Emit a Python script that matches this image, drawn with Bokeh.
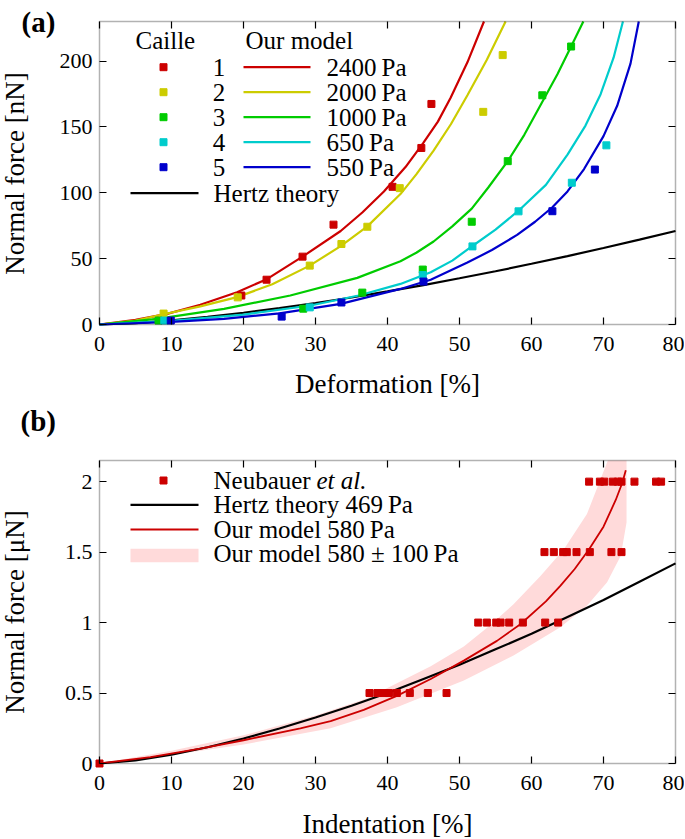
from math import pi
from bokeh.plotting import figure
from bokeh.layouts import column
from bokeh.models import Range1d, FixedTicker, LinearAxis, Label, BoxAnnotation
from bokeh.embed import file_html
from bokeh.resources import INLINE

FONT = "Liberation Serif"

# ---------------- panel (a): Caille data and model curves ----------------
colors = ["#CC0000", "#CCCC00", "#00CC00", "#00CCCC", "#0000CC"]
moduli = ["2400", "2000", "1000", "650", "550"]

caille1_x = [19.7, 23.2, 28.2, 32.5, 40.7, 44.7, 46.1]
caille1_y = [22, 34, 51.5, 75.8, 104.5, 134, 167.4]
caille2_x = [8.9, 19.2, 29.2, 33.6, 37.2, 41.7, 53.3, 56.0]
caille2_y = [8.3, 20.6, 44.7, 61.1, 74.2, 103.5, 161.4, 204.5]
caille3_x = [8.2, 28.3, 36.5, 44.9, 51.7, 56.7, 61.5, 65.5]
caille3_y = [3, 12, 24.2, 41.7, 78, 124, 174, 211]
caille4_x = [9.0, 29.2, 44.9, 51.8, 58.2, 65.6, 70.4]
caille4_y = [3, 13, 37.5, 59.3, 85.9, 107.6, 136]
caille5_x = [9.9, 25.3, 33.6, 45.0, 62.9, 68.8]
caille5_y = [3, 6, 16.7, 32.6, 86, 117.6]

model1_x = [0, 5, 9.4, 14, 19.1, 23.3, 28.2, 33.5, 36.5, 39.5, 42.5, 45, 47, 48.75, 51.1, 53.4]
model1_y = [0, 3.5, 8.1, 15, 24.5, 34.6, 51.5, 71, 85, 101, 119.5, 138, 154, 172, 199, 230]
model2_x = [0, 5, 8.9, 14, 19.1, 24, 29.2, 33.5, 37.2, 41.8, 44, 46.4, 48.8, 51.1, 53.8, 56.4]
model2_y = [0, 3.0, 7.8, 13.8, 20.8, 30.5, 44.7, 59.5, 74.5, 99, 114, 132, 152, 174, 201, 230]
model3_x = [0, 8, 17.3, 26.5, 35.8, 41.8, 44, 46.4, 49, 51.7, 54, 56.7, 59, 61.3, 63.6, 65.5, 67.2]
model3_y = [0, 4.3, 11.9, 22, 35.4, 48, 54.5, 63, 74.5, 88, 104, 124, 144, 167, 190, 211, 230]
model4_x = [0, 10, 20, 29.3, 36, 41.8, 46, 49, 51.8, 55, 58.2, 62, 65, 67.5, 69.6, 71.4, 72.7]
model4_y = [0, 2.8, 7.5, 14.4, 22, 30.8, 39.6, 48.5, 59.6, 72, 86.4, 106, 129, 151, 174.8, 202.5, 230]
model5_x = [0, 10, 17.3, 25, 33.5, 41.8, 46, 51.1, 54.5, 58, 60.5, 62.9, 65, 67.3, 70, 71.9, 73.75, 74.9]
model5_y = [0, 2.0, 4.3, 8.5, 15.7, 27, 34, 47, 56.5, 68, 78, 89, 101, 118, 143, 166, 198, 230]

hertz_a_x = [0, 5, 10, 15, 20, 25, 30, 35, 40, 45, 50, 55, 60, 65, 70, 75, 80]
hertz_a_y = [0, 1.1, 3.1, 5.8, 8.9, 12.4, 16.3, 20.5, 25.1, 29.9, 35.1, 40.4, 46.1, 51.9, 58.1, 64.4, 71]

# ---------------- panel (b): Neubauer data and model ----------------
neub_x = [0,
          37.5, 38.6, 39.5, 40.2, 41.3, 43.1, 45.6, 48.2,
          52.6, 53.8, 55.1, 55.7, 56.9, 58.8, 61.9, 63.7,
          61.8, 63.1, 64.4, 64.9, 66.25, 68.1, 71.1, 72.5,
          68.0, 69.5, 70.1, 71.3, 72.0, 72.5, 74.3, 77.3, 78.0]
neub_y = [0,
          0.5, 0.5, 0.5, 0.5, 0.5, 0.5, 0.5, 0.5,
          1.0, 1.0, 1.0, 1.0, 1.0, 1.0, 1.0, 1.0,
          1.5, 1.5, 1.5, 1.5, 1.5, 1.5, 1.5, 1.5,
          2.0, 2.0, 2.0, 2.0, 2.0, 2.0, 2.0, 2.0, 2.0]

hertz_b_x = [0, 5, 10, 15, 20, 25, 30, 35, 40, 45, 50, 55, 60, 65, 70, 75, 80]
hertz_b_y = [0, 0.022, 0.063, 0.115, 0.177, 0.248, 0.326, 0.41, 0.50, 0.60,
             0.70, 0.81, 0.92, 1.04, 1.16, 1.29, 1.42]

model_b_x = [0, 7.1, 14, 20, 27.9, 32.1, 36.7, 41.3, 46, 50.6, 55.2, 58.5,
             62, 64, 66, 68, 70, 71.7, 72.6, 73.1]
model_b_y = [0, 0.045, 0.105, 0.165, 0.25, 0.3, 0.38, 0.48, 0.6, 0.73, 0.87, 0.99,
             1.15, 1.26, 1.38, 1.52, 1.68, 1.87, 1.99, 2.08]

band_hi_x = [0, 10, 20, 30, 37, 41.3, 46, 50.6, 54, 57.5, 61.25, 64.5, 67.7, 70.6, 73.2]
band_hi_y = [0, 0.09, 0.2, 0.34, 0.46, 0.57, 0.69, 0.83, 0.97, 1.13, 1.33, 1.52, 1.77, 2.15, 2.15]
band_lo_x = [0, 10, 20, 32.1, 41.3, 50.6, 57.5, 64, 67.7, 70.5, 72.4, 73.2]
band_lo_y = [0, 0.06, 0.135, 0.25, 0.4, 0.589, 0.766, 0.967, 1.12, 1.286, 1.475, 1.71]

x_ticks = [0, 10, 20, 30, 40, 50, 60, 70, 80]
ya_ticks = [0, 50, 100, 150, 200]
yb_ticks = [0, 0.5, 1, 1.5, 2]
yb_labels = {0: "0", 0.5: "0.5", 1: "1", 1.5: "1.5", 2: "2"}

# ---------------- page geometry (pixels) ----------------
W = 684
XA = (0, 80)
YA = (0, 230)
YB = (0, 2.15)
F_LEFT, F_RIGHT = 99, 675
A_TOP, A_BOTTOM, A_END = 21, 324, 399     # panel (a): frame top/bottom, canvas end
B_TOP, B_BOTTOM, B_END = 460, 763, 839    # panel (b)

KX = (F_RIGHT - F_LEFT) / (XA[1] - XA[0])
KA = (A_BOTTOM - A_TOP) / (YA[1] - YA[0])
KB = (B_BOTTOM - B_TOP) / (YB[1] - YB[0])


def dx(px):
    return XA[0] + (px - F_LEFT) / KX


def dya(py):
    return YA[0] + (A_BOTTOM - py) / KA


def dyb(py):
    return YB[0] + (B_BOTTOM - py) / KB


def make_panel(ytop_page, ybottom_page, ydata, yticks, conv):
    # the frame fills the whole canvas; the axes are pinned to the data box
    p = figure(width=W, height=ybottom_page - ytop_page,
               x_range=Range1d(dx(0), dx(W)),
               y_range=Range1d(conv(ybottom_page), conv(ytop_page)),
               x_axis_location=None, y_axis_location=None, min_border=0,
               output_backend="svg", toolbar_location=None)
    p.xgrid.visible = False
    p.ygrid.visible = False
    p.outline_line_color = None
    p.background_fill_color = "white"
    p.border_fill_color = "white"
    specs = [("below", ydata[0], x_ticks, True), ("left", XA[0], yticks, True),
             ("above", ydata[1], x_ticks, False), ("right", XA[1], yticks, False)]
    for loc, fixed, tk, show_labels in specs:
        ax = LinearAxis(fixed_location=fixed, ticker=FixedTicker(ticks=tk),
                        major_tick_in=7, major_tick_out=0, major_tick_line_width=1.2,
                        minor_tick_line_color=None, axis_line_color=None,
                        major_label_text_font=FONT, major_label_text_font_size="22px",
                        major_label_text_color="black" if show_labels else None,
                        major_label_standoff=12 if loc == "below" else 7)
        p.add_layout(ax, loc)
    p.add_layout(BoxAnnotation(left=XA[0], right=XA[1], bottom=ydata[0], top=ydata[1],
                               fill_color=None, line_color="black", line_width=1.5))
    return p


def text(p, x, y, s, size="25px", align="left", style="normal", angle=0):
    # y is the vertical middle of the text
    p.add_layout(Label(x=x, y=y, text=s, text_font=FONT, text_font_size=size,
                       text_align=align, text_baseline="middle",
                       text_font_style=style, angle=angle, text_color="black"))


# ================= panel (a) =================
pa = make_panel(0, A_END, YA, ya_ticks, dya)

pa.line(hertz_a_x, hertz_a_y, line_color="black", line_width=2.2)
models_a = [(model1_x, model1_y), (model2_x, model2_y), (model3_x, model3_y),
            (model4_x, model4_y), (model5_x, model5_y)]
for (mx, my), c in zip(models_a, colors):
    pa.line(mx, my, line_color=c, line_width=2.2)
caille = [(caille1_x, caille1_y), (caille2_x, caille2_y), (caille3_x, caille3_y),
          (caille4_x, caille4_y), (caille5_x, caille5_y)]
for (cx, cy), c in zip(caille, colors):
    pa.scatter(cx, cy, marker="square", size=7, fill_color=c, line_color=c)

# legend (a), drawn by hand
text(pa, dx(135), dya(40), "Caille")
text(pa, dx(245), dya(40), "Our model")
for i, (c, m) in enumerate(zip(colors, moduli)):
    yk = 66.7 + 25 * i
    pa.scatter([dx(163)], [dya(yk)], marker="square", size=7, fill_color=c, line_color=c)
    text(pa, dx(218.5), dya(yk), str(i + 1), align="center")
    pa.line([dx(243), dx(310)], [dya(yk), dya(yk)], line_color=c, line_width=2.2)
    text(pa, dx(326), dya(yk), m + "\u2009Pa")
pa.line([dx(130), dx(198)], [dya(192.7), dya(192.7)], line_color="black", line_width=2.2)
text(pa, dx(213), dya(192.7), "Hertz theory")

text(pa, dx(387), dya(383.5), "Deformation [%]", size="27px", align="center")
text(pa, dx(14), dya(173), "Normal force [nN]", size="27px", align="center", angle=pi / 2)
text(pa, dx(21), dya(21.5), "(a)", size="29px", style="bold")

# ================= panel (b) =================
pb = make_panel(A_END, B_END, YB, yb_ticks, dyb)
for ax in pb.left:
    ax.major_label_overrides = yb_labels

pb.patch(band_hi_x + band_lo_x[::-1], band_hi_y + band_lo_y[::-1],
         fill_color="#FFDADA", line_color=None)
pb.line(hertz_b_x, hertz_b_y, line_color="black", line_width=2.2)
pb.line(model_b_x, model_b_y, line_color="#CC0000", line_width=1.8)
pb.scatter(neub_x, neub_y, marker="square", size=7, fill_color="#CC0000", line_color="#CC0000")

# legend (b), drawn by hand
pb.scatter([dx(163)], [dyb(480)], marker="square", size=7, fill_color="#CC0000", line_color="#CC0000")
text(pb, dx(213), dyb(480), "Neubauer")
text(pb, dx(316), dyb(480), "et al.", style="italic")
pb.line([dx(130), dx(198)], [dyb(504.3), dyb(504.3)], line_color="black", line_width=2.2)
text(pb, dx(213), dyb(504.3), "Hertz theory 469\u2009Pa")
pb.line([dx(130), dx(198)], [dyb(529), dyb(529)], line_color="#CC0000", line_width=1.8)
text(pb, dx(213), dyb(529), "Our model 580\u2009Pa")
pb.quad(left=[dx(130)], right=[dx(198)], top=[dyb(548.3)], bottom=[dyb(561.7)],
        fill_color="#FFDADA", line_color=None)
text(pb, dx(213), dyb(553.3), "Our model 580 \u00b1 100\u2009Pa")

text(pb, dx(387), dyb(823), "Indentation [%]", size="27px", align="center")
text(pb, dx(14), dyb(611.5), "Normal force [\u03bcN]", size="27px", align="center", angle=pi / 2)
text(pb, dx(20), dyb(420), "(b)", size="29px", style="bold")

layout = column(pa, pb)
open("out.html", "w").write(file_html(layout, INLINE))
